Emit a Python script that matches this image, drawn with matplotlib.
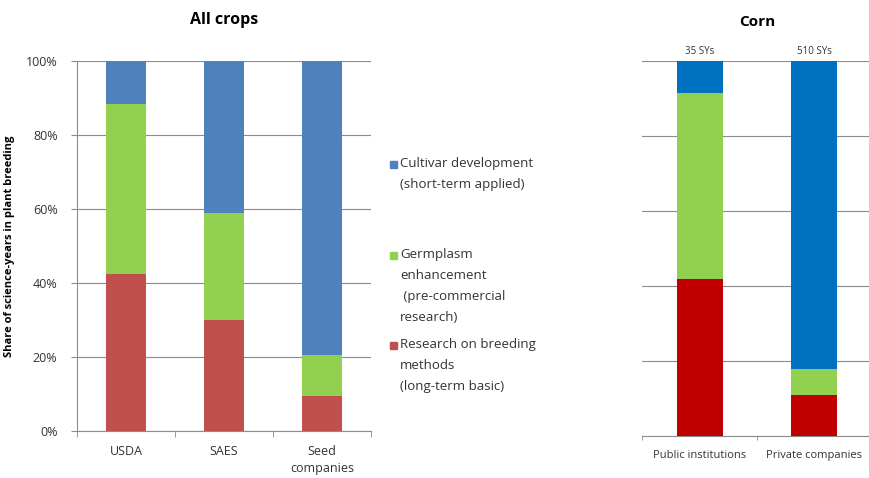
import matplotlib.pyplot as plt
from matplotlib.patches import Rectangle
import numpy as np

plt.rcParams['font.family'] = ['Open Sans', 'DejaVu Sans']

# All crops: share of science-years by research type (%)
all_groups = ['USDA', 'SAES', 'Seed\ncompanies']
all_basic = [42.5, 30.0, 9.5]
all_germplasm = [46.0, 29.0, 11.0]
all_cultivar = [11.5, 41.0, 79.5]

# Corn
corn_groups = ['Public institutions', 'Private companies']
corn_basic = [42.0, 11.0]
corn_germplasm = [49.5, 7.0]
corn_cultivar = [8.5, 82.0]
corn_totals = ['35 SYs', '510 SYs']

legend_labels = ['Cultivar development\n(short-term applied)',
                 'Germplasm\nenhancement\n (pre-commercial\nresearch)',
                 'Research on breeding\nmethods\n(long-term basic)']

W, H = 870, 478
fig = plt.figure(figsize=(W / 100, H / 100), dpi=100)
grid_c = '#8c8c8c'
txt_c = '#333333'


def px_axes(left, top, right, bottom):
    return fig.add_axes([left / W, 1 - bottom / H, (right - left) / W, (bottom - top) / H])


def stack(ax, x, parts, colors, width):
    bottom = np.zeros(len(x))
    for vals, c in zip(parts, colors):
        ax.bar(x, vals, width, bottom=bottom, color=c, zorder=3)
        bottom += np.array(vals)


# left panel
ax1 = px_axes(77, 61, 371, 431)
x1 = np.arange(len(all_groups))
left_colors = ['#c0504d', '#92d050', '#4f81bd']
stack(ax1, x1, [all_basic, all_germplasm, all_cultivar], left_colors, 0.4)
ax1.set_xlim(-0.5, len(all_groups) - 0.5)
ax1.set_ylim(0, 100)
ax1.set_yticks(np.arange(0, 101, 20))
ax1.set_yticklabels([f'{v}%' for v in range(0, 101, 20)], fontsize=9, color=txt_c)
ax1.yaxis.grid(True, color=grid_c, linewidth=0.8, zorder=0)
ax1.set_xticks(x1)
ax1.set_xticklabels(all_groups, fontsize=9, color=txt_c, linespacing=1.45)
ax1.set_xticks(np.arange(-0.5, len(all_groups), 1), minor=True)
ax1.tick_params(axis='x', which='major', length=0, pad=10)
ax1.tick_params(axis='x', which='minor', length=4, color=grid_c)
ax1.tick_params(axis='y', length=4, color=grid_c, pad=10)
for s in ['top', 'right']:
    ax1.spines[s].set_visible(False)
for s in ['left', 'bottom']:
    ax1.spines[s].set_color(grid_c)
ax1.set_ylabel('Share of science-years in plant breeding', fontsize=8,
               fontweight='bold', labelpad=8)
ax1.set_title('All crops', fontsize=11.5, fontweight='bold', pad=27)

# legend, square beside the first line of each entry
legend_colors = [left_colors[2], left_colors[1], left_colors[0]]
legend_tops = [157, 248, 338]
for lab, c, top in zip(legend_labels, legend_colors, legend_tops):
    fig.patches.append(Rectangle((390 / W, 1 - (top + 11) / H), 7 / W, 7 / H,
                                 transform=fig.transFigure, color=c))
    fig.text(400 / W, 1 - top / H, lab, ha='left', va='top', fontsize=9.5,
             color=txt_c, linespacing=1.8)

# right panel
ax2 = px_axes(642, 61, 872, 436)
x2 = np.arange(len(corn_groups))
right_colors = ['#c00000', '#92d050', '#0070c0']
stack(ax2, x2, [corn_basic, corn_germplasm, corn_cultivar], right_colors, 0.4)
ax2.set_xlim(-0.5, len(corn_groups) - 0.5)
ax2.set_ylim(0, 100)
ax2.set_yticks(np.arange(0, 101, 20))
ax2.set_yticklabels([])
ax2.tick_params(axis='y', length=0)
ax2.yaxis.grid(True, color=grid_c, linewidth=0.8, zorder=0)
ax2.set_xticks(x2)
ax2.set_xticklabels(corn_groups, fontsize=8, color=txt_c)
ax2.set_xticks(np.arange(-0.5, len(corn_groups), 1), minor=True)
ax2.tick_params(axis='x', which='major', length=0, pad=10)
ax2.tick_params(axis='x', which='minor', length=3, color=grid_c)
for s in ['top', 'right', 'left']:
    ax2.spines[s].set_visible(False)
ax2.spines['bottom'].set_color(grid_c)
for xi, lab in zip(x2, corn_totals):
    ax2.annotate(lab, (xi, 100), xytext=(0, 3), textcoords='offset points',
                 ha='center', va='bottom', fontsize=7, color=txt_c)
ax2.set_title('Corn', fontsize=11, fontweight='bold', pad=25)

fig.savefig('out.png', dpi=100)
